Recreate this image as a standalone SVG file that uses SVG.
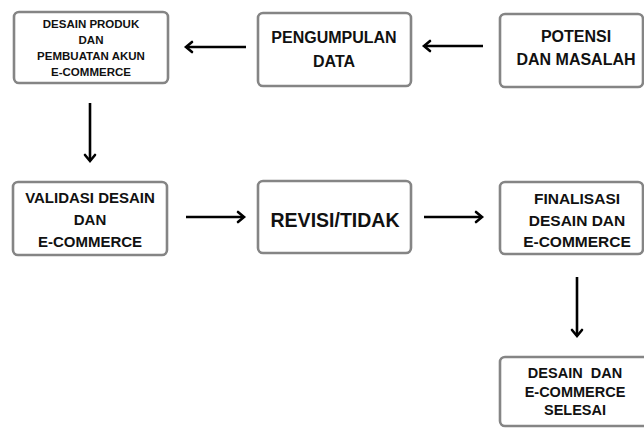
<svg xmlns="http://www.w3.org/2000/svg" width="644" height="428" viewBox="0 0 644 428">
<defs>
<marker id="arr" markerUnits="userSpaceOnUse" markerWidth="14" markerHeight="14" viewBox="-10 -7 12 14" refX="0" refY="0" orient="auto">
<path d="M-6,-5 L0,0 L-6,5" fill="none" stroke="#000" stroke-width="2.6" stroke-linecap="round" stroke-linejoin="miter"/>
</marker>
</defs>
<style>
.box{fill:#fff;stroke:#858585;stroke-width:2.6}
.t{font-family:"Liberation Sans",Arial,sans-serif;font-weight:bold;fill:#111;text-anchor:middle}
.c{stroke:#000;stroke-width:2.6;fill:none;marker-end:url(#arr)}
</style>
<rect width="644" height="428" fill="#fff"/>
<g id="connectors">
<line class="c" x1="246" y1="47" x2="186" y2="47"/>
<line class="c" x1="483" y1="46" x2="424" y2="46"/>
<line class="c" x1="90" y1="103" x2="90" y2="161"/>
<line class="c" x1="186" y1="217" x2="244" y2="217"/>
<line class="c" x1="424" y1="217" x2="482" y2="217"/>
<line class="c" x1="577" y1="277" x2="577" y2="336"/>
</g>
<g id="desain-produk">
<rect class="box" x="14" y="12" width="154" height="71" rx="5"/>
<text class="t" font-size="11.5"><tspan x="91" y="28">DESAIN PRODUK</tspan><tspan x="91" y="44">DAN</tspan><tspan x="91" y="60">PEMBUATAN AKUN</tspan><tspan x="91" y="76">E-COMMERCE</tspan></text>
</g>
<g id="pengumpulan-data">
<rect class="box" x="258" y="13" width="153" height="73" rx="5"/>
<text class="t" font-size="16"><tspan x="334" y="43">PENGUMPULAN</tspan><tspan x="334" y="67">DATA</tspan></text>
</g>
<g id="potensi-masalah">
<rect class="box" x="500" y="14" width="143" height="73" rx="5"/>
<text class="t" font-size="16"><tspan x="576" y="42">POTENSI</tspan><tspan x="576" y="65">DAN MASALAH</tspan></text>
</g>
<g id="validasi">
<rect class="box" x="13" y="182" width="154" height="73" rx="5"/>
<text class="t" font-size="15"><tspan x="90" y="203">VALIDASI DESAIN</tspan><tspan x="90" y="225">DAN</tspan><tspan x="90" y="247">E-COMMERCE</tspan></text>
</g>
<g id="revisi">
<rect class="box" x="258" y="181" width="153" height="72" rx="5"/>
<text class="t" font-size="19.5"><tspan x="335" y="227">REVISI/TIDAK</tspan></text>
</g>
<g id="finalisasi">
<rect class="box" x="500" y="182" width="143" height="72" rx="5"/>
<text class="t" font-size="15.5"><tspan x="577" y="204">FINALISASI</tspan><tspan x="577" y="226">DESAIN DAN</tspan><tspan x="577" y="247">E-COMMERCE</tspan></text>
</g>
<g id="selesai">
<rect class="box" x="500" y="357" width="160" height="69" rx="5"/>
<text class="t" font-size="14.5" xml:space="preserve"><tspan x="575" y="378">DESAIN  DAN</tspan><tspan x="575" y="397">E-COMMERCE</tspan><tspan x="575" y="415">SELESAI</tspan></text>
</g>
</svg>
